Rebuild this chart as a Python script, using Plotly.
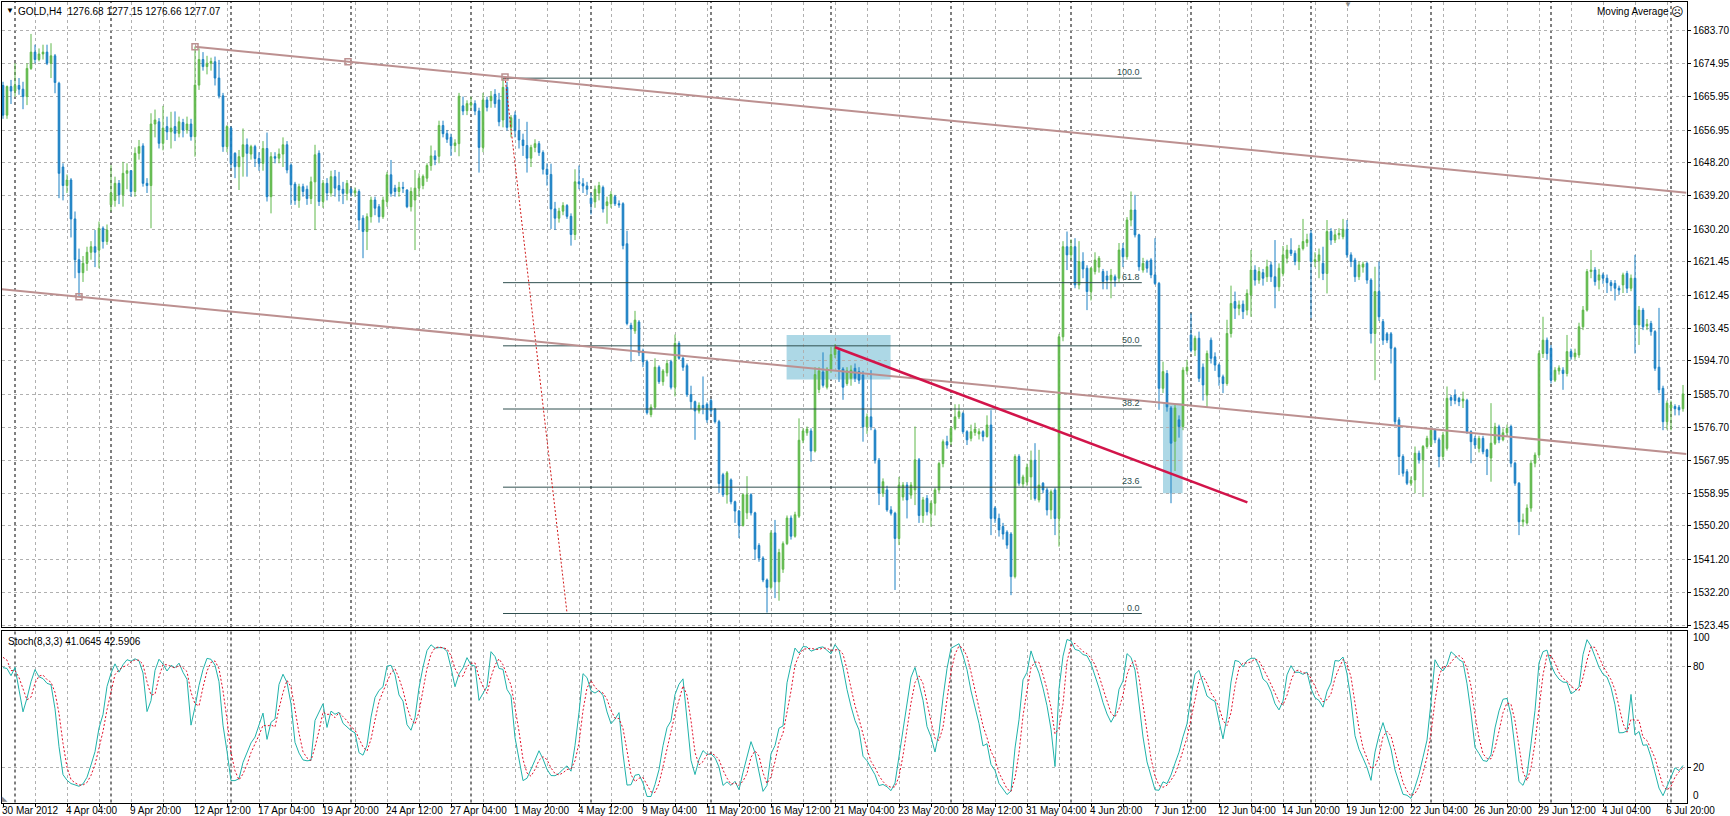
import plotly.graph_objects as go

# ---------------- data (GOLD, H4, bar 0 = 30 Mar 2012 12:00) ----------------
opens = [
1669.0,1661.0,1668.7,1667.5,1669.0,1668.0,1666.0,1673.6,1678.0,1676.0,1677.5,1678.0,1675.0,1677.0,1669.6,1647.0,1642.0,1643.5,1633.0,1622.0,
1618.5,1621.0,1624.0,1625.5,1624.6,1630.5,1626.9,1636.8,1638.0,1642.6,1639.5,1645.3,1646.0,1640.4,1650.7,1652.7,1642.6,1642.0,1658.6,1659.2,
1653.4,1657.9,1656.5,1657.9,1656.1,1659.0,1657.0,1658.6,1655.2,1669.1,1676.0,1674.1,1675.0,1675.4,1671.0,1666.2,1652.5,1657.5,1650.7,1647.1,
1649.8,1653.0,1650.5,1652.5,1649.3,1648.0,1652.0,1639.0,1649.8,1649.4,1650.5,1653.0,1647.5,1642.4,1638.0,1641.7,1641.0,1638.5,1643.0,1650.7,
1637.7,1642.6,1640.0,1644.4,1642.0,1641.0,1639.9,1641.0,1640.0,1640.4,1633.2,1629.6,1633.6,1638.1,1636.3,1633.6,1637.7,1644.9,1641.3,1640.4,
1641.5,1640.8,1636.3,1638.1,1641.3,1642.0,1644.0,1647.4,1650.0,1649.9,1658.2,1656.0,1655.0,1652.8,1653.3,1663.5,1662.2,1663.7,1664.1,1662.1,
1652.3,1665.1,1664.9,1666.6,1665.1,1659.7,1668.5,1657.7,1661.0,1656.8,1654.3,1652.8,1649.4,1652.3,1653.3,1650.9,1646.4,1645.0,1635.7,1633.2,
1635.1,1636.6,1633.7,1628.8,1643.0,1642.5,1641.9,1638.6,1637.6,1640.0,1641.5,1636.6,1637.1,1639.0,1637.1,1637.1,1626.3,1604.3,1602.8,1605.2,
1597.4,1594.5,1580.2,1582.2,1593.0,1589.1,1591.5,1594.5,1587.6,1599.4,1595.4,1593.4,1585.6,1583.7,1581.2,1582.7,1583.0,1584.0,1581.7,1578.3,
1564.0,1558.6,1562.6,1556.7,1554.2,1550.3,1553.7,1558.6,1553.7,1544.9,1541.5,1535.6,1533.6,1548.3,1535.1,1538.5,1545.4,1552.3,1547.4,1552.8,
1573.3,1575.3,1575.8,1570.4,1587.0,1591.7,1587.6,1592.5,1596.4,1597.4,1592.5,1588.6,1590.0,1592.7,1591.8,1590.9,1576.9,1579.6,1576.0,1567.9,
1559.0,1559.9,1554.5,1553.6,1546.8,1558.0,1561.2,1558.5,1559.9,1568.0,1553.0,1557.6,1553.6,1556.3,1559.9,1567.0,1572.9,1572.9,1576.5,1579.6,
1580.5,1575.6,1573.8,1575.4,1575.0,1575.6,1574.3,1577.4,1555.0,1552.2,1550.0,1548.5,1548.0,1536.5,1568.9,1561.5,1562.0,1563.4,1567.9,1557.2,
1561.7,1559.9,1554.5,1559.9,1552.2,1601.2,1625.5,1623.3,1625.5,1615.2,1621.5,1619.7,1613.4,1618.8,1620.0,1618.8,1617.6,1616.5,1617.4,1617.0,
1625.0,1622.8,1632.7,1635.4,1628.7,1619.2,1621.5,1621.9,1617.9,1615.6,1587.3,1591.3,1582.0,1573.0,1578.8,1577.0,1592.0,1601.7,1597.6,1600.8,
1593.0,1585.5,1600.3,1595.8,1593.6,1590.4,1588.6,1602.1,1610.7,1608.9,1610.0,1608.4,1612.5,1619.2,1616.5,1618.5,1617.4,1620.6,1617.4,1614.7,
1618.3,1622.4,1624.6,1623.7,1621.5,1625.0,1626.6,1629.1,1621.5,1621.7,1621.0,1618.3,1629.6,1627.3,1628.7,1628.2,1630.2,1623.3,1621.9,1617.4,
1620.0,1621.0,1616.5,1602.1,1613.4,1605.3,1602.0,1602.0,1598.1,1578.8,1568.9,1564.8,1561.7,1562.6,1569.8,1568.0,1571.6,1572.1,1576.0,1573.4,
1568.9,1571.1,1584.8,1585.5,1584.6,1583.9,1584.1,1575.6,1573.8,1571.1,1573.8,1570.7,1568.5,1572.5,1576.9,1573.4,1575.3,1577.0,1567.1,1561.7,
1551.3,1551.0,1555.0,1567.1,1569.3,1596.7,1600.3,1598.1,1589.5,1592.0,1592.2,1591.3,1597.2,1595.8,1596.3,1603.9,1608.4,1618.8,1619.2,1616.5,
1617.9,1617.0,1615.8,1615.6,1614.3,1615.2,1618.3,1614.3,1617.0,1604.4,1608.4,1604.1,1604.8,1602.6,1593.0,1587.3,1578.3,1582.0,1582.4,1582.2,
1581.8]
highs = [
1670.0,1669.0,1670.5,1675.0,1671.0,1670.0,1675.0,1682.9,1680.0,1679.0,1680.0,1680.0,1680.4,1677.5,1670.0,1648.0,1645.0,1644.0,1635.0,1625.0,
1623.0,1625.5,1627.0,1630.0,1632.3,1631.0,1631.5,1647.5,1644.4,1643.5,1648.4,1648.0,1646.2,1652.3,1654.3,1653.4,1644.0,1661.5,1662.5,1660.2,
1663.5,1660.6,1661.9,1662.0,1660.6,1660.0,1660.6,1660.0,1679.5,1679.0,1678.0,1677.0,1676.5,1676.8,1675.9,1667.0,1658.3,1658.0,1651.0,1651.6,
1657.4,1654.7,1653.0,1653.0,1651.0,1654.0,1656.3,1651.0,1651.0,1652.0,1655.0,1654.0,1648.0,1643.0,1642.5,1642.5,1642.0,1644.4,1653.0,1651.5,
1643.5,1644.0,1646.0,1646.2,1645.7,1643.0,1643.5,1641.5,1641.5,1641.0,1634.0,1634.5,1639.0,1639.0,1637.0,1639.0,1645.7,1648.9,1642.2,1643.0,
1643.0,1641.0,1641.5,1646.2,1645.3,1645.0,1648.0,1652.8,1651.5,1659.5,1659.5,1657.0,1656.0,1654.5,1667.0,1666.0,1665.0,1666.0,1665.0,1663.0,
1667.0,1666.0,1667.5,1668.0,1667.0,1671.0,1670.0,1661.0,1662.0,1660.0,1656.0,1659.2,1653.0,1654.5,1654.0,1651.5,1648.0,1647.9,1637.6,1636.0,
1637.5,1637.0,1634.5,1646.4,1647.4,1644.0,1643.0,1640.0,1642.0,1643.0,1642.0,1639.0,1640.5,1639.5,1638.0,1637.5,1629.8,1605.0,1608.2,1605.7,
1598.0,1595.0,1583.0,1595.4,1593.5,1592.5,1595.0,1595.0,1601.8,1600.0,1596.0,1594.0,1588.0,1584.0,1583.5,1590.5,1583.5,1584.5,1582.0,1578.8,
1564.5,1565.0,1563.0,1557.0,1554.5,1559.0,1563.6,1559.0,1554.0,1545.5,1542.0,1536.0,1549.0,1551.8,1544.0,1546.0,1553.0,1553.0,1554.0,1579.2,
1576.5,1577.0,1576.5,1593.0,1593.0,1597.0,1593.0,1598.5,1599.2,1598.0,1593.0,1593.0,1593.5,1594.0,1593.0,1592.0,1580.5,1592.2,1576.5,1568.5,
1563.0,1561.0,1555.5,1554.0,1563.4,1562.0,1562.0,1562.0,1577.0,1568.5,1558.0,1558.5,1557.0,1560.5,1567.5,1573.5,1574.5,1577.0,1583.0,1583.0,
1581.0,1576.0,1577.5,1578.0,1576.5,1576.0,1580.0,1581.4,1555.5,1553.5,1551.0,1549.0,1548.5,1569.5,1569.5,1564.0,1567.0,1570.5,1572.5,1570.7,
1562.0,1560.5,1560.0,1560.5,1602.0,1627.0,1629.6,1627.5,1627.8,1627.0,1624.0,1620.5,1620.0,1624.0,1623.0,1619.5,1619.0,1619.5,1618.0,1626.5,
1626.5,1633.5,1640.4,1639.5,1629.0,1622.5,1622.0,1622.4,1627.8,1616.0,1594.5,1592.2,1582.5,1583.0,1580.0,1593.0,1595.0,1607.5,1601.5,1602.6,
1594.0,1597.5,1601.0,1597.0,1594.0,1591.0,1605.8,1615.0,1613.4,1611.0,1611.0,1614.0,1624.6,1620.5,1620.0,1619.5,1622.0,1621.5,1627.3,1621.0,
1625.7,1626.0,1627.8,1624.5,1626.0,1633.0,1629.0,1630.0,1624.0,1625.0,1625.5,1632.7,1630.5,1630.0,1630.5,1633.0,1632.7,1624.0,1622.5,1621.5,
1621.5,1621.5,1617.0,1620.1,1621.5,1606.0,1602.5,1602.5,1598.5,1579.5,1569.5,1565.5,1563.5,1571.6,1570.5,1572.0,1574.5,1576.5,1576.5,1574.0,
1575.5,1587.8,1585.5,1587.0,1585.0,1586.4,1584.5,1576.0,1574.5,1574.5,1574.5,1571.0,1583.3,1578.0,1577.5,1576.5,1577.5,1577.5,1567.5,1562.0,
1553.5,1556.0,1568.0,1570.0,1597.5,1606.6,1601.0,1599.0,1593.0,1593.5,1593.0,1601.7,1598.0,1598.0,1605.0,1609.5,1619.5,1624.6,1620.0,1619.5,
1618.5,1618.0,1616.5,1616.5,1615.0,1618.5,1619.0,1618.0,1623.3,1609.5,1609.0,1606.0,1605.5,1603.0,1609.0,1588.0,1584.0,1584.0,1583.0,1582.8,
1588.2]
lows = [
1660.0,1660.0,1664.0,1666.0,1666.5,1662.6,1663.7,1673.2,1675.0,1675.5,1676.0,1674.5,1671.0,1666.9,1638.6,1638.0,1640.0,1628.0,1617.0,1612.0,
1616.0,1619.0,1622.0,1620.0,1619.7,1625.0,1626.0,1635.0,1636.3,1637.0,1636.3,1641.0,1639.0,1639.0,1649.0,1641.7,1640.0,1630.5,1655.0,1652.0,
1651.5,1654.3,1652.0,1654.0,1655.0,1655.0,1656.0,1654.1,1649.8,1667.8,1673.0,1672.0,1673.0,1669.0,1665.5,1651.1,1651.0,1646.6,1644.0,1640.8,
1644.4,1644.4,1649.0,1647.0,1646.0,1646.0,1637.7,1634.5,1648.0,1648.0,1647.0,1645.3,1636.8,1636.8,1636.0,1639.0,1636.8,1637.0,1630.0,1636.5,
1636.0,1638.0,1639.0,1639.0,1637.7,1637.0,1638.0,1639.0,1639.0,1630.0,1622.4,1624.6,1632.0,1634.0,1632.0,1633.0,1636.3,1639.0,1639.0,1639.0,
1640.0,1635.9,1635.0,1624.6,1639.0,1641.0,1643.0,1646.0,1647.5,1648.0,1655.0,1653.5,1650.0,1651.0,1649.9,1661.0,1661.0,1662.5,1661.0,1645.5,
1651.0,1662.0,1663.0,1663.0,1658.0,1657.7,1656.8,1655.0,1655.0,1652.0,1650.0,1645.5,1647.0,1651.0,1650.0,1645.0,1642.0,1630.3,1630.0,1632.0,
1634.0,1633.0,1625.8,1627.3,1641.0,1640.0,1639.5,1634.2,1636.0,1638.0,1634.7,1631.7,1636.0,1636.5,1636.0,1624.8,1604.3,1594.5,1602.0,1596.0,
1593.0,1580.2,1579.5,1581.7,1588.5,1588.0,1590.5,1587.0,1585.1,1595.0,1592.0,1585.0,1581.7,1573.4,1580.5,1580.3,1578.0,1580.2,1577.8,1559.1,
1558.0,1556.2,1556.0,1551.0,1546.9,1550.0,1552.0,1553.0,1541.0,1540.5,1535.0,1526.8,1533.0,1530.7,1530.0,1537.5,1545.0,1546.5,1547.0,1552.3,
1572.5,1574.5,1567.5,1570.0,1586.0,1587.5,1587.0,1591.5,1595.5,1589.0,1584.2,1588.0,1588.0,1589.0,1588.5,1572.9,1575.0,1576.0,1567.0,1555.8,
1558.0,1554.0,1553.0,1532.9,1545.0,1557.0,1552.2,1557.5,1555.8,1551.0,1551.0,1553.0,1550.0,1553.0,1559.0,1566.0,1571.0,1572.0,1576.0,1579.0,
1575.0,1572.0,1573.0,1574.5,1573.5,1573.0,1574.0,1547.7,1551.0,1547.3,1546.5,1544.0,1531.5,1536.0,1561.0,1560.5,1561.0,1557.2,1557.0,1556.5,
1559.0,1553.0,1552.0,1547.7,1544.6,1600.0,1619.2,1622.0,1614.3,1614.0,1617.0,1608.4,1611.0,1618.0,1618.5,1614.0,1614.0,1611.6,1614.7,1616.0,
1620.0,1622.0,1631.0,1628.0,1619.0,1618.5,1618.5,1617.0,1615.2,1581.5,1586.0,1581.0,1556.3,1565.0,1574.0,1576.0,1591.0,1597.0,1596.0,1589.0,
1584.0,1582.0,1594.0,1592.0,1588.0,1586.0,1588.0,1601.0,1606.0,1607.0,1606.0,1607.0,1606.6,1615.0,1615.5,1615.0,1616.0,1616.0,1608.9,1613.5,
1617.5,1621.0,1623.0,1620.5,1619.2,1624.5,1625.5,1606.2,1620.0,1617.0,1616.5,1612.9,1626.0,1626.5,1627.5,1627.5,1622.5,1620.0,1616.0,1616.5,
1618.5,1615.5,1599.4,1589.5,1605.5,1599.0,1599.5,1594.0,1577.5,1563.9,1563.5,1561.2,1561.0,1559.0,1567.0,1558.0,1571.0,1571.5,1572.5,1566.0,
1568.0,1570.5,1582.5,1583.0,1582.5,1582.0,1575.0,1567.1,1571.0,1570.0,1569.5,1563.9,1562.1,1572.0,1572.5,1573.0,1574.5,1566.0,1561.0,1547.7,
1550.0,1550.5,1554.0,1566.0,1568.5,1595.5,1595.0,1588.6,1589.0,1591.0,1586.9,1590.5,1595.0,1595.0,1595.5,1603.0,1608.0,1617.0,1615.0,1614.0,
1615.5,1613.0,1613.5,1611.0,1612.5,1613.0,1613.0,1613.5,1596.7,1599.0,1603.0,1603.0,1601.5,1592.0,1586.0,1576.0,1576.2,1576.0,1580.0,1580.0,
1581.0]
closes = [
1661.0,1668.7,1667.5,1669.0,1668.0,1666.0,1673.6,1678.0,1676.0,1677.5,1678.0,1675.0,1677.0,1669.8,1645.3,1642.0,1643.5,1633.0,1622.0,1618.5,
1621.0,1624.0,1625.5,1624.0,1630.5,1626.9,1630.0,1640.0,1642.6,1639.5,1645.3,1646.0,1640.4,1650.7,1652.5,1642.6,1642.0,1658.6,1659.7,1653.4,
1657.5,1656.5,1657.5,1656.1,1659.2,1657.0,1658.6,1655.2,1669.1,1676.0,1674.1,1675.0,1675.5,1671.0,1666.2,1652.5,1657.9,1648.0,1647.1,1649.8,
1653.0,1650.7,1652.5,1649.3,1648.0,1652.0,1639.0,1649.8,1649.4,1650.5,1653.0,1646.2,1642.2,1638.0,1641.7,1640.4,1638.5,1643.0,1650.3,1637.7,
1642.6,1640.0,1644.4,1641.3,1640.8,1639.9,1642.6,1640.0,1640.6,1632.7,1629.6,1633.6,1638.1,1635.9,1633.6,1638.1,1644.9,1639.9,1640.4,1641.5,
1641.3,1636.3,1640.4,1641.3,1644.0,1644.5,1647.4,1650.0,1649.0,1658.2,1656.0,1654.5,1652.8,1653.5,1666.1,1662.1,1664.1,1664.3,1662.1,1652.3,
1665.1,1663.1,1666.1,1664.1,1659.2,1668.5,1657.7,1660.3,1656.8,1654.3,1652.8,1649.4,1652.3,1653.3,1650.9,1646.4,1645.0,1635.7,1633.2,1635.1,
1636.6,1633.7,1628.8,1643.0,1642.5,1641.9,1641.0,1637.1,1641.0,1642.0,1635.7,1637.6,1639.6,1637.1,1636.8,1625.8,1604.8,1603.3,1605.7,1596.9,
1594.5,1580.7,1582.2,1593.0,1589.1,1592.0,1594.0,1587.6,1599.4,1595.4,1593.0,1585.6,1583.7,1581.2,1582.7,1582.0,1578.8,1581.2,1578.3,1561.6,
1558.6,1564.5,1556.7,1554.2,1550.3,1558.6,1558.6,1553.7,1543.9,1541.5,1535.6,1533.6,1548.3,1535.1,1543.0,1545.4,1552.3,1547.4,1553.2,1573.3,
1575.8,1576.3,1570.4,1591.0,1592.0,1588.1,1592.5,1596.4,1598.4,1592.5,1587.6,1592.0,1592.2,1590.0,1589.5,1576.9,1579.6,1576.9,1567.9,1559.0,
1562.1,1554.5,1553.6,1546.8,1561.2,1561.2,1557.2,1561.2,1568.0,1553.0,1557.2,1554.0,1556.3,1559.9,1567.0,1572.9,1572.0,1576.5,1579.6,1581.0,
1575.6,1573.4,1575.6,1576.3,1575.6,1574.3,1577.4,1552.2,1552.2,1549.1,1548.0,1545.0,1536.5,1568.9,1561.7,1563.4,1566.0,1567.9,1557.6,1561.2,
1559.9,1554.5,1559.4,1552.2,1601.2,1625.5,1623.3,1625.5,1615.2,1621.5,1619.5,1613.4,1619.7,1621.9,1622.4,1616.1,1616.5,1617.8,1616.5,1624.6,
1622.8,1632.7,1635.4,1628.7,1620.1,1621.0,1619.7,1617.9,1615.6,1587.3,1591.8,1582.3,1572.5,1582.0,1577.0,1592.2,1593.0,1597.6,1600.8,1590.0,
1588.2,1596.7,1595.4,1593.6,1590.4,1588.6,1602.1,1610.2,1608.9,1609.8,1608.0,1612.9,1619.2,1616.5,1618.8,1617.0,1620.1,1617.4,1614.7,1619.7,
1623.3,1624.6,1623.7,1621.5,1625.0,1626.9,1627.4,1621.5,1622.0,1623.3,1618.3,1629.6,1627.3,1628.7,1629.1,1630.2,1623.3,1621.5,1617.4,1620.6,
1620.8,1616.5,1602.1,1613.4,1606.6,1600.3,1600.3,1598.1,1578.3,1568.9,1564.4,1561.7,1562.5,1569.8,1568.0,1571.6,1573.8,1576.0,1573.4,1568.9,
1574.7,1584.6,1584.1,1584.0,1583.7,1584.4,1575.6,1572.9,1572.0,1573.8,1570.2,1568.9,1572.5,1576.9,1573.4,1575.3,1576.5,1567.1,1561.7,1551.3,
1551.8,1555.0,1567.1,1569.3,1596.7,1600.3,1596.7,1589.5,1592.2,1592.8,1591.3,1597.2,1595.8,1596.8,1603.9,1608.4,1618.8,1619.2,1616.1,1617.9,
1617.0,1615.8,1615.0,1614.3,1613.8,1617.9,1614.3,1617.0,1604.4,1608.4,1603.9,1604.6,1602.6,1592.7,1586.9,1578.3,1583.3,1582.8,1581.8,1581.5,
1585.8]

# bars just before the visible window (29-30 Mar), used only to warm up the oscillator
pre_high = [1668, 1666, 1663, 1660, 1657, 1656, 1660, 1663, 1666, 1669, 1670]
pre_low = [1662, 1660, 1656, 1652, 1651, 1652, 1655, 1658, 1661, 1664, 1666]
pre_close = [1664, 1661, 1657, 1653, 1655, 1659, 1658, 1662, 1665, 1668, 1668.5]

price_ticks = [1683.70, 1674.95, 1665.95, 1656.95, 1648.20, 1639.20, 1630.20, 1621.45, 1612.45,
               1603.45, 1594.70, 1585.70, 1576.70, 1567.95, 1558.95, 1550.20, 1541.20, 1532.20, 1523.45]
price_labels = ["%.2f" % v for v in price_ticks]

time_labels = ["30 Mar 2012", "4 Apr 04:00", "9 Apr 20:00", "12 Apr 12:00", "17 Apr 04:00", "19 Apr 20:00",
               "24 Apr 12:00", "27 Apr 04:00", "1 May 20:00", "4 May 12:00", "9 May 04:00", "11 May 20:00",
               "16 May 12:00", "21 May 04:00", "23 May 20:00", "28 May 12:00", "31 May 04:00", "4 Jun 20:00",
               "7 Jun 12:00", "12 Jun 04:00", "14 Jun 20:00", "19 Jun 12:00", "22 Jun 04:00", "26 Jun 20:00",
               "29 Jun 12:00", "4 Jul 04:00", "6 Jul 20:00"]
label_step = 16
grid_step = 8
week_start_bars = [3, 27, 57, 87, 117, 147, 177, 207, 237, 267, 297, 327, 357, 387, 417]

stoch_levels = [80, 20]
stoch_end_labels = ["100", "0"]

# drawn objects (anchor points in bar index / price)
channel_bars = [48, 86.25]
channel_prices = [1679.46, 1675.42]
parallel_bar = 19
parallel_price = 1612.02
fib_start_bar = 125
fib_end_bar = 284.7
fib_high = 1670.97
fib_low = 1526.55
fib_ratios = [100.0, 61.8, 50.0, 38.2, 23.6, 0.0]
fib_link_bars = [125.5, 141.0]
fib_link_prices = [1671.3, 1526.7]
trend_bars = [208, 311.1]
trend_prices = [1598.37, 1556.55]
box_x0 = [195.9, 290.0]
box_x1 = [221.9, 294.9]
box_p0 = [1589.68, 1558.98]
box_p1 = [1601.69, 1583.26]

# ---------------- layout geometry ----------------
W, H = 1730, 816
X_LEFT, X_RIGHT = -0.25, 420.875
PLOT_L, PLOT_R = 2, 1686.5
MAIN_TOP, MAIN_BOT = 2, 627
ST_TOP, ST_BOT = 631, 802.5
LABEL_X = 1691.5


def px(x):
    return x / W


def py(y):
    return 1 - y / H


GREEN = "#5fb84a"
BLUE = "#1b80c4"
ROSY = "#bc9090"
GRID = "#b0b0b0"
FONT = "Liberation Sans, Arial, sans-serif"

n = len(closes)
xs = list(range(n))

# ---------------- stochastic (8,3,3) ----------------
Hs = pre_high + highs
Ls = pre_low + lows
Cs = pre_close + closes
kp, slow, dp = 8, 3, 3
K = [None] * len(Cs)
for j in range(len(Cs)):
    if j - slow + 1 - kp + 1 < 0:
        continue
    num = den = 0.0
    for t in range(j - slow + 1, j + 1):
        ll = min(Ls[t - kp + 1:t + 1])
        hh = max(Hs[t - kp + 1:t + 1])
        num += Cs[t] - ll
        den += hh - ll
    K[j] = 100.0 * num / den if den else 50.0
D = [None] * len(Cs)
for j in range(len(Cs)):
    win = K[j - dp + 1:j + 1] if j - dp + 1 >= 0 else []
    if len(win) == dp and all(v is not None for v in win):
        D[j] = sum(win) / dp
off = len(pre_close)
K_vis = K[off:]
D_vis = D[off:]

fig = go.Figure()

fig.add_trace(go.Candlestick(
    x=xs, open=opens, high=highs, low=lows, close=closes,
    increasing=dict(line=dict(color=GREEN, width=1), fillcolor=GREEN),
    decreasing=dict(line=dict(color=BLUE, width=1), fillcolor=BLUE),
    whiskerwidth=0, showlegend=False, hoverinfo="skip",
    xaxis="x", yaxis="y"))

# anchor squares
up_slope = (channel_prices[1] - channel_prices[0]) / (channel_bars[1] - channel_bars[0])
sq_x = [channel_bars[0], channel_bars[1], parallel_bar, fib_link_bars[0]]
sq_y = [channel_prices[0], channel_prices[1], parallel_price,
        channel_prices[0] + up_slope * (fib_link_bars[0] - channel_bars[0])]
fig.add_trace(go.Scatter(x=sq_x, y=sq_y, mode="markers",
                         marker=dict(symbol="square-open", size=6, color=ROSY, line=dict(width=1.5, color=ROSY)),
                         showlegend=False, hoverinfo="skip", xaxis="x", yaxis="y"))

fig.add_trace(go.Scatter(x=xs, y=K_vis, mode="lines", line=dict(color="#20b2aa", width=1),
                         showlegend=False, hoverinfo="skip", xaxis="x2", yaxis="y2"))
fig.add_trace(go.Scatter(x=xs, y=D_vis, mode="lines", line=dict(color="#e0102a", width=1, dash="2px,2px"),
                         showlegend=False, hoverinfo="skip", xaxis="x2", yaxis="y2"))

shapes = []
# weekly separators
for b in week_start_bars:
    for xr, yr in (("x", "y domain"), ("x2", "y2 domain")):
        shapes.append(dict(type="line", xref=xr, yref=yr, x0=b, x1=b, y0=0, y1=1,
                           line=dict(color="#000000", width=1, dash="3px,3px"), layer="below"))
# light blue rectangles
for a0, a1, p0, p1 in zip(box_x0, box_x1, box_p0, box_p1):
    shapes.append(dict(type="rect", xref="x", yref="y", x0=a0, x1=a1, y0=p0, y1=p1,
                       fillcolor="#add8e6", line=dict(width=0), layer="below"))
# fibonacci levels
fib_prices = [fib_low + (fib_high - fib_low) * r / 100.0 for r in fib_ratios]
for p in fib_prices:
    shapes.append(dict(type="line", xref="x", yref="y", x0=fib_start_bar, x1=fib_end_bar, y0=p, y1=p,
                       line=dict(color="#2f4f4f", width=1), layer="above"))
shapes.append(dict(type="line", xref="x", yref="y", x0=fib_link_bars[0], x1=fib_link_bars[1],
                   y0=fib_link_prices[0], y1=fib_link_prices[1],
                   line=dict(color="#d01818", width=1, dash="2px,2px"), layer="above"))
# equidistant channel
shapes.append(dict(type="line", xref="x", yref="y", x0=channel_bars[0], x1=X_RIGHT,
                   y0=channel_prices[0], y1=channel_prices[0] + up_slope * (X_RIGHT - channel_bars[0]),
                   line=dict(color=ROSY, width=2), layer="above"))
shapes.append(dict(type="line", xref="x", yref="y", x0=X_LEFT, x1=X_RIGHT,
                   y0=parallel_price + up_slope * (X_LEFT - parallel_bar),
                   y1=parallel_price + up_slope * (X_RIGHT - parallel_bar),
                   line=dict(color=ROSY, width=2), layer="above"))
# red trendline
shapes.append(dict(type="line", xref="x", yref="y", x0=trend_bars[0], x1=trend_bars[1],
                   y0=trend_prices[0], y1=trend_prices[1],
                   line=dict(color="#d2144a", width=2.5), layer="above"))

annotations = []
for r, p in zip(fib_ratios, fib_prices):
    annotations.append(dict(xref="x", yref="y", x=fib_end_bar, y=p, text="%.1f" % r, showarrow=False,
                            xanchor="right", yanchor="bottom", yshift=-1,
                            font=dict(family=FONT, size=9, color="#2f4f4f")))

# price scale labels (right side)
for v, s in zip(price_ticks, price_labels):
    annotations.append(dict(xref="paper", yref="y", x=px(LABEL_X), y=v, text=s, showarrow=False,
                            xanchor="left", yanchor="middle", borderpad=0,
                            font=dict(family=FONT, size=10, color="#000000")))
for v in stoch_levels:
    annotations.append(dict(xref="paper", yref="y2", x=px(LABEL_X), y=v, text=str(v), showarrow=False,
                            xanchor="left", yanchor="middle", borderpad=0,
                            font=dict(family=FONT, size=10, color="#000000")))

# time scale labels (bottom)
for k, s in enumerate(time_labels):
    annotations.append(dict(xref="x2", yref="paper", x=k * label_step, y=py(810), text=s, showarrow=False,
                            xanchor="left", yanchor="middle", xshift=-2, borderpad=0,
                            font=dict(family=FONT, size=10, color="#000000")))


def txt(x, y, s, size=10, color="#000000", anchor="left", family=FONT):
    annotations.append(dict(xref="paper", yref="paper", x=px(x), y=py(y), text=s, showarrow=False,
                            xanchor=anchor, yanchor="middle", borderpad=0,
                            font=dict(family=family, size=size, color=color)))


txt(5, 11, "▼", size=8)
txt(17, 12, "GOLD,H4\u00a0\u00a01276.68\u00a01277.15\u00a01276.66\u00a01277.07")
txt(1670, 12, "Moving Average", anchor="right")
txt(1670, 12, "☹", size=12, family="DejaVu Sans")
txt(1343, 5, "▼", size=8, color="#8a8a8a")
txt(7, 641, "Stoch(8,3,3) 41.0645 42.5906")
txt(LABEL_X, 637, stoch_end_labels[0])
txt(LABEL_X, 795, stoch_end_labels[1])
txt(1, 798, "◣", size=7, color="#8a8a8a")

grid_bars = list(range(0, n, grid_step))

axis_common = dict(showline=True, mirror=True, linecolor="#000000", linewidth=1, zeroline=False,
                   showgrid=True, gridcolor=GRID, gridwidth=1, griddash="3px,3px", automargin=False,
                   showticklabels=False)

fig.update_layout(
    width=W, height=H, template="none",
    margin=dict(l=0, r=0, t=0, b=0, pad=0),
    paper_bgcolor="#ffffff", plot_bgcolor="#ffffff",
    font=dict(family=FONT, size=10, color="#000000"),
    hovermode=False, showlegend=False, boxgap=0.42,
    xaxis=dict(domain=[px(PLOT_L), px(PLOT_R)], range=[X_LEFT, X_RIGHT], anchor="y",
               tickmode="array", tickvals=grid_bars, ticks="",
               rangeslider=dict(visible=False), **axis_common),
    xaxis2=dict(domain=[px(PLOT_L), px(PLOT_R)], range=[X_LEFT, X_RIGHT], anchor="y2",
                tickmode="array", tickvals=grid_bars,
                ticks="outside", ticklen=3, tickcolor="#000000", **axis_common),
    yaxis=dict(domain=[py(MAIN_BOT), py(MAIN_TOP)], range=[1522.91, 1691.52], side="right", anchor="x",
               tickmode="array", tickvals=price_ticks,
               ticks="outside", ticklen=3, tickcolor="#000000", **axis_common),
    yaxis2=dict(domain=[py(ST_BOT), py(ST_TOP)], range=[-0.67, 101.21], side="right", anchor="x2",
                tickmode="array", tickvals=stoch_levels,
                ticks="outside", ticklen=3, tickcolor="#000000", **axis_common),
    shapes=shapes, annotations=annotations,
)

fig.write_html("out.html", config={"displayModeBar": False},
               post_script="document.body.style.margin='0px';document.body.style.overflow='hidden';")
